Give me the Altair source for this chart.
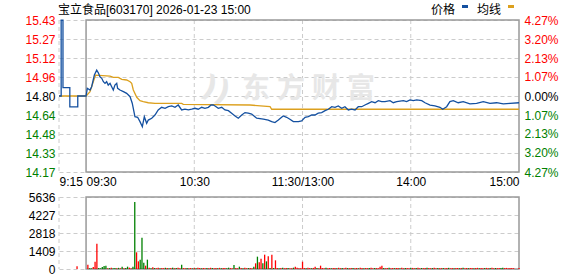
import altair as alt
import pandas as pd

# ---------------- data ----------------
header_text = "宝立食品[603170] 2026-01-23 15:00"
legend_labels = ["价格", "均线"]
watermark_text = "东方财富"

prev_close = 14.80
price_ticks = [14.168, 14.326, 14.484, 14.642, 14.80, 14.958, 15.116, 15.274, 15.432]
pct_ticks = [-4.27, -3.20, -2.13, -1.07, 0.00, 1.07, 2.13, 3.20, 4.27]
volume_ticks = [0, 1409, 2818, 4227, 5636]

# minutes on the trading-time axis (0 = 9:15, 15 = 9:30, 135 = 11:30/13:00, 255 = 15:00)
x_tick_minutes = [0, 15, 75, 135, 195, 255]
x_tick_labels = ["9:15", "09:30", "10:30", "11:30/13:00", "14:00", "15:00"]
grid_minutes = [0, 75, 135, 195]
session_start, session_end = 15, 255

price_minutes = [
    0, 1.2, 1.2, 2.2, 2.2, 6.0, 6.0, 10.4, 10.4, 15,
    15.7, 17.2, 18.1, 19.6, 20.9, 21.8, 22.7, 23.7, 24.6, 25.5,
    26.4, 27.3, 28.3, 29.2, 30.1, 31.0, 32.0, 32.5, 33.8, 35.7,
    37.5, 39.4, 40.6, 42.1, 43.6, 44.9, 46.2, 47.3, 48.6, 49.5,
    51.4, 53.2, 55.0, 56.9, 58.8, 60.6, 62.5, 64.3, 66.1, 68.0,
    69.8, 71.7, 73.6, 75.4, 77.2, 79.1, 80.9, 82.8, 84.3, 85.5,
    86.5, 88.3, 90.2, 92.0, 93.9, 95.7, 97.6, 99.4, 101.3, 103.1,
    104.9, 106.8, 108.6, 109.6, 113.3, 116.0, 117.9, 119.7, 121.6, 123.4,
    124.3, 126.2, 128.0, 129.9, 132.7, 134.5, 136.4, 138.2, 140.1, 141.9,
    143.7, 145.6, 147.5, 149.3, 151.2, 153.0, 154.8, 156.7, 158.5, 160.4,
    162.2, 164.1, 165.9, 167.8, 169.6, 171.5, 173.3, 175.2, 177.0, 178.9,
    180.7, 183.5, 185.3, 187.2, 190.9, 192.7, 194.6, 196.4, 198.3, 201.1,
    202.9, 205.7, 208.4, 211.2, 212.7, 214.9, 216.7, 218.6, 221.3, 224.1,
    227.8, 231.5, 235.2, 238.9, 242.6, 246.3, 250.0, 255,
]
price_values = [
    14.80, 14.80, 15.43, 15.43, 14.87, 14.87, 14.71, 14.71, 14.80, 14.80,
    14.864, 14.850, 14.877, 14.974, 15.015, 14.993, 14.960, 14.947, 14.919, 14.905,
    14.919, 14.891, 14.905, 14.877, 14.850, 14.891, 14.905, 14.864, 14.850, 14.836,
    14.822, 14.794, 14.740, 14.628, 14.623, 14.587, 14.545, 14.628, 14.573, 14.600,
    14.615, 14.642, 14.684, 14.706, 14.698, 14.711, 14.717, 14.706, 14.725, 14.684,
    14.690, 14.684, 14.690, 14.698, 14.690, 14.706, 14.698, 14.706, 14.725, 14.725,
    14.717, 14.698, 14.706, 14.684, 14.678, 14.657, 14.634, 14.615, 14.642, 14.662,
    14.657, 14.650, 14.628, 14.615, 14.607, 14.600, 14.587, 14.579, 14.600, 14.623,
    14.634, 14.623, 14.607, 14.587, 14.587, 14.593, 14.623, 14.628, 14.642, 14.642,
    14.657, 14.662, 14.678, 14.690, 14.711, 14.706, 14.717, 14.698, 14.711, 14.684,
    14.690, 14.684, 14.711, 14.711, 14.725, 14.739, 14.753, 14.744, 14.761, 14.753,
    14.753, 14.761, 14.744, 14.753, 14.761, 14.753, 14.767, 14.761, 14.767, 14.761,
    14.744, 14.725, 14.717, 14.706, 14.690, 14.711, 14.753, 14.761, 14.744, 14.753,
    14.734, 14.739, 14.753, 14.739, 14.744, 14.734, 14.739, 14.744,
]

avg_minutes = [0, 15, 17.2, 19.0, 20.3, 28.3, 30.1, 32.9, 34.8, 37.5, 39.4, 40.3,
               41.2, 43.1, 44.9, 46.7, 49.5, 53.2, 68.0, 68.9, 105.9, 117.0, 117.9, 255]
avg_values = [14.80, 14.80, 14.836, 14.919, 14.974, 14.966, 14.955, 14.955, 14.938, 14.933,
              14.919, 14.905, 14.850, 14.789, 14.761, 14.753, 14.744, 14.739, 14.739,
              14.731, 14.725, 14.711, 14.690, 14.690]

auction_minute = 10
auction_volume = 210
auction_dir = "r"
volume_first_minute = 16
volumes = [
    340, 50, 50, 157, 574, 1984, 78, 52, 157, 235,
    261, 52, 70, 95, 60, 85, 55, 90, 65, 183,
    60, 85, 183, 104, 52, 183, 5246, 1305, 600, 731,
    2453, 496, 261, 731, 104, 52, 130, 75, 60, 90,
    55, 80, 65, 95, 70, 50, 85, 104, 60, 75,
    90, 55, 340, 70, 60, 85, 65, 75, 50, 80,
    60, 90, 70, 55, 85, 65, 75, 60, 95, 70,
    55, 80, 65, 90, 60, 75, 85, 55, 104, 70,
    60, 313, 75, 55, 183, 80, 65, 90, 60, 75,
    85, 60, 183, 444, 966, 522, 809, 444, 1122, 600,
    992, 78, 1122, 78, 679, 85, 60, 75, 90, 55,
    70, 80, 65, 60, 104, 183, 104, 52, 52, 574,
    80, 65, 90, 75, 60, 85, 183, 70, 55, 261,
    75, 60, 90, 65, 80, 55, 85, 70, 60, 95,
    65, 80, 55, 90, 70, 60, 85, 75, 65, 80,
    55, 90, 70, 60, 85, 65, 75, 104, 60, 80,
    70, 65, 183, 261, 85, 60, 75, 90, 55, 80,
    65, 70, 85, 60, 90, 55, 75, 80, 65, 70,
    85, 60, 75, 90, 55, 80, 65, 70, 104, 85,
    60, 75, 90, 55, 80, 65, 70, 85, 60, 75,
    90, 55, 80, 65, 70, 85, 60, 75, 90, 55,
    80, 65, 70, 85, 60, 75, 90, 55, 80, 65,
    70, 85, 60, 75, 90, 55, 80, 65, 70, 85,
    104, 70, 85, 60, 75, 80, 65, 0, 0, 80,
]
volume_dirs = (
    "rggrrrgggg" "grgrggrgrg" "rggrrggrrg" "ggrgrgrgrr" "grrgrgrgrg"
    "rrgrrgrrgr" "grrgrrgrrg" "rrgrgrrggr" "rgrrgrgrrg" "rrgrgrrgrg"
    "rgrgrrgrgr" "rgrrgrrrrr" "rgrrgrrgrr" "rrgrrgrrgr" "rgrrgrrgrr"
    "grrgrrgrrg" "rrrrgrrgrr" "grrgrrgrrg" "rrgrrgrrgr" "rgrrgrrgrr"
    "grrgrrgrgr" "rgrrgrrgrr" "grrgrrgrrg" "grrrrrrrrr"
)

# ---------------- styling ----------------
FONT = "Liberation Sans, Noto Sans CJK SC, sans-serif"
W, H = 460, 249          # plot area: price panel + gap + volume panel
PRICE_H = 152            # price panel height
VOL_TOP = 177            # top of volume panel
BLUE = "#1450a0"
ORANGE = "#dca01e"
UP = "#ff0000"
DOWN = "#008000"
GRID = "#cccccc"
BOX = "#999999"
WATERMARK = "#e7e7e7"

# ---------------- tables ----------------
df_price = pd.DataFrame({"t": price_minutes, "price": price_values,
                         "i": list(range(len(price_minutes)))})
df_avg = pd.DataFrame({"t": avg_minutes, "price": avg_values})
vol_t = [auction_minute] + list(range(volume_first_minute, volume_first_minute + len(volumes)))
vol_v = [auction_volume] + volumes
vol_d = [auction_dir] + list(volume_dirs)
df_vol = pd.DataFrame({"t": vol_t, "vol": vol_v, "dir": vol_d})
df_grid = pd.DataFrame({"t": grid_minutes,
                        "top": [price_ticks[-1]] * len(grid_minutes),
                        "bot": [price_ticks[0]] * len(grid_minutes),
                        "vtop": [volume_ticks[-1]] * len(grid_minutes),
                        "vbot": [volume_ticks[0]] * len(grid_minutes)})
df_box = pd.DataFrame({"t": [session_start], "t2": [session_end],
                       "top": [price_ticks[-1]], "bot": [price_ticks[0]],
                       "vtop": [volume_ticks[-1]], "vbot": [volume_ticks[0]]})
df_pct = pd.DataFrame({"pct": pct_ticks})
one = pd.DataFrame({"a": [0]})

# ---------------- scales & axes ----------------
xscale = alt.Scale(domain=[0, 255], nice=False, zero=False)
price_scale = alt.Scale(domain=[price_ticks[0], price_ticks[-1]], range=[PRICE_H, 0], nice=False, zero=False)
vol_scale = alt.Scale(domain=[volume_ticks[0], volume_ticks[-1]], range=[H, VOL_TOP], nice=False, zero=False)
pct_scale = alt.Scale(domain=[pct_ticks[0], pct_ticks[-1]], range=[PRICE_H, 0], nice=False, zero=False)

x_label_expr = " : ".join(
    f"datum.value == {m} ? '{l}'" for m, l in zip(x_tick_minutes, x_tick_labels)) + " : ''"
xaxis = alt.Axis(values=x_tick_minutes, labelExpr=x_label_expr, orient="bottom",
                 offset=-(H - PRICE_H), grid=False, domain=False, ticks=False,
                 labelFont=FONT, labelFontSize=12, labelColor="#000000", labelPadding=4,
                 labelFlush=False, labelOverlap=False, title=None,
                 labelAlign={"condition": [{"test": "datum.value <= 15", "value": "left"},
                                           {"test": "datum.value >= 255", "value": "right"}],
                             "value": "center"})
X = alt.X("t:Q", scale=xscale, axis=xaxis)

price_axis = alt.Axis(orient="left", values=price_ticks, format=".2f", grid=True,
                      gridDash=[4, 3], gridColor=GRID, domain=False, ticks=False,
                      labelPadding=4, labelFont=FONT, labelFontSize=12, labelOverlap=False,
                      title=None,
                      labelColor={"condition": [{"test": f"datum.value > {prev_close + 0.001}", "value": UP},
                                                {"test": f"datum.value < {prev_close - 0.001}", "value": DOWN}],
                                  "value": "#000000"})
vol_axis = alt.Axis(orient="left", values=volume_ticks, format="d", grid=True,
                    gridDash=[4, 3], gridColor=GRID, domain=False, ticks=False,
                    labelPadding=4, labelFont=FONT, labelFontSize=12, labelOverlap=False,
                    labelColor="#000000", title=None)
pct_axis = alt.Axis(orient="right", values=pct_ticks, grid=False, domain=False, ticks=False,
                    labelExpr="format(abs(datum.value), '.2f') + '%'",
                    labelPadding=5, labelFont=FONT, labelFontSize=12, labelOverlap=False,
                    title=None,
                    labelColor={"condition": [{"test": "datum.value > 0.001", "value": UP},
                                              {"test": "datum.value < -0.001", "value": DOWN}],
                                "value": "#000000"})

# ---------------- layers ----------------
vgrid_price = alt.Chart(df_grid).mark_rule(color=GRID, strokeDash=[4, 3], strokeWidth=1).encode(
    x=X, y=alt.Y("top:Q", scale=price_scale, axis=None), y2="bot:Q")
vgrid_vol = alt.Chart(df_grid).mark_rule(color=GRID, strokeDash=[4, 3], strokeWidth=1).encode(
    x=X, y=alt.Y("vtop:Q", scale=vol_scale, axis=None), y2="vbot:Q")

box_price = alt.Chart(df_box).mark_rect(fillOpacity=0, stroke=BOX, strokeWidth=1.5).encode(
    x=X, x2="t2:Q", y=alt.Y("top:Q", scale=price_scale, axis=None), y2="bot:Q")
box_vol = alt.Chart(df_box).mark_rect(fillOpacity=0, stroke=BOX, strokeWidth=1.5).encode(
    x=X, x2="t2:Q", y=alt.Y("vtop:Q", scale=vol_scale, axis=None), y2="vbot:Q")

# watermark: widely spaced bold characters (decoration)
watermark_layers = [
    alt.Chart(one).mark_text(
        text=ch, font="Noto Sans CJK SC", fontSize=28, fontWeight="bold",
        color=WATERMARK, align="center", baseline="middle").encode(
        x=alt.value(197 + 35 * k), y=alt.value(70))
    for k, ch in enumerate(watermark_text)
]
logo = alt.Chart(one).mark_text(
    text="))", font="DejaVu Sans", fontSize=30, fontWeight="bold", angle=20,
    color=WATERMARK, align="center", baseline="middle").encode(
    x=alt.value(157), y=alt.value(70))

vol_bars = alt.Chart(df_vol).mark_rule(strokeWidth=1.3).encode(
    x=X,
    y=alt.Y("vol:Q", scale=vol_scale, axis=vol_axis),
    y2=alt.Y2(datum=0),
    color=alt.Color("dir:N", scale=alt.Scale(domain=["r", "g"], range=[UP, DOWN]), legend=None))

avg_line = alt.Chart(df_avg).mark_line(color=ORANGE, strokeWidth=1.3).encode(
    x=X, y=alt.Y("price:Q", scale=price_scale, axis=None))

price_line = alt.Chart(df_price).mark_line(color=BLUE, strokeWidth=1.3).encode(
    x=X, y=alt.Y("price:Q", scale=price_scale, axis=price_axis), order="i:Q")

pct_layer = alt.Chart(df_pct).mark_point(opacity=0).encode(
    y=alt.Y("pct:Q", scale=pct_scale, axis=pct_axis))

header = alt.Chart(one).mark_text(
    text=header_text, font=FONT, fontSize=12, color="#000000",
    align="left", baseline="middle").encode(x=alt.value(-1), y=alt.value(-10))

leg_price = alt.Chart(one).mark_text(
    text=legend_labels[0], font=FONT, fontSize=12, color="#000000",
    align="left", baseline="middle").encode(x=alt.value(372), y=alt.value(-10))
leg_price_sym = alt.Chart(one).mark_rect(color=BLUE).encode(
    x=alt.value(403), x2=alt.value(409), y=alt.value(-15), y2=alt.value(-12))
leg_avg = alt.Chart(one).mark_text(
    text=legend_labels[1], font=FONT, fontSize=12, color="#000000",
    align="left", baseline="middle").encode(x=alt.value(418), y=alt.value(-10))
leg_avg_sym = alt.Chart(one).mark_rect(color=ORANGE).encode(
    x=alt.value(449), x2=alt.value(455), y=alt.value(-15), y2=alt.value(-12))

chart = alt.layer(
    vgrid_price, vgrid_vol, logo, *watermark_layers, box_price, box_vol, vol_bars,
    avg_line, price_line, pct_layer, header, leg_price, leg_price_sym, leg_avg, leg_avg_sym,
).resolve_scale(y="independent").properties(
    width=W, height=H,
    autosize=alt.AutoSizeParams(type="none"),
    padding={"left": 59, "top": 20, "right": 59, "bottom": 7},
    background="white",
).configure_view(strokeWidth=0)

chart.save("out.html", embed_options={"renderer": "svg", "actions": False})
